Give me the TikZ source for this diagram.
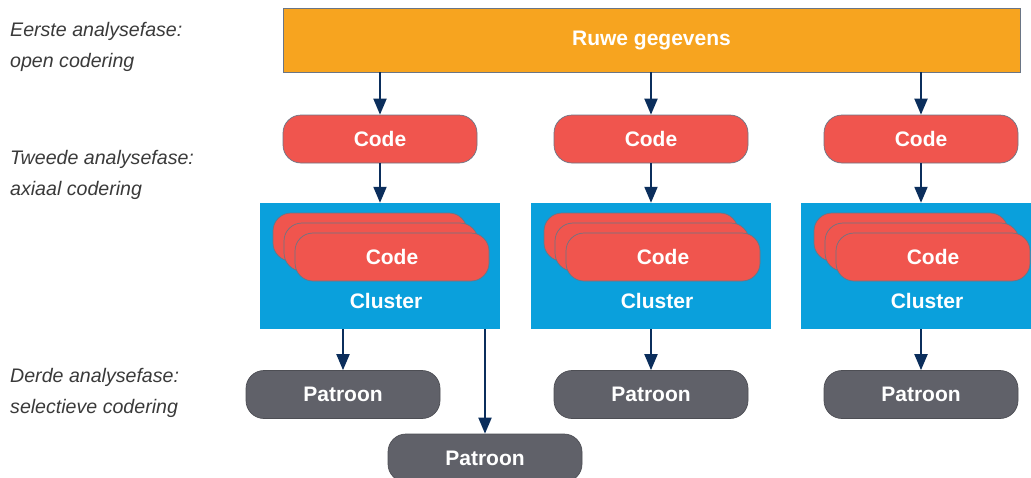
\documentclass[tikz,border=0pt]{standalone}
\usepackage{fontspec}
\setmainfont{Liberation Sans}
\usetikzlibrary{arrows.meta}
\definecolor{rawfill}{HTML}{F7A41F}
\definecolor{codered}{HTML}{F0554E}
\definecolor{clusterblue}{HTML}{0AA0DC}
\definecolor{patgray}{HTML}{606169}
\definecolor{edgegray}{HTML}{6A7585}
\definecolor{arrownavy}{HTML}{0B2E5C}
\definecolor{phasegray}{HTML}{3A3A3A}

\tikzset{
  box/.style={minimum width=194pt,minimum height=48pt,rounded corners=18pt,
    inner sep=0pt,text=white,font=\bfseries\fontsize{21}{25}\selectfont},
  codebox/.style={box,fill=codered,draw=edgegray,line width=0.7pt},
  patbox/.style={box,fill=patgray,draw=patgray!80!black,line width=0.7pt},
  clusterbox/.style={minimum width=240pt,minimum height=126pt,inner sep=0pt,fill=clusterblue},
  flow/.style={-{Triangle[width=13pt,length=16pt]},line width=2pt,draw=arrownavy},
  phase/.style={anchor=north west,align=left,inner sep=0pt,text=phasegray,
    font=\itshape\fontsize{19.6}{31}\selectfont}
}

\begin{document}
\begin{tikzpicture}[x=1pt,y=-1pt]
  \useasboundingbox (0,0) rectangle (1031,477);
  % phases
  \node[phase] (ph1) at (10,22) {Eerste analysefase:\\open codering};
  \node[phase] (ph2) at (10,150) {Tweede analysefase:\\axiaal codering};
  \node[phase] (ph3) at (10,368) {Derde analysefase:\\selectieve codering};

  % raw data
  \node[minimum width=737pt,minimum height=64pt,inner sep=0pt,fill=rawfill,draw=edgegray,
    line width=0.7pt,text=white,font=\bfseries\fontsize{21}{25}\selectfont]
    (raw) at (651.5,40) {Ruwe gegevens};

  % three columns
  \foreach \i/\x in {1/380,2/651,3/921} {
    \node[codebox] (code\i) at (\x,139) {Code};
    \node[clusterbox] (cl\i) at (\x,266) {};
    \node[codebox] (back\i) at (\x-10,237) {};
    \node[codebox] (mid\i) at (\x+1,247) {};
    \node[codebox] (front\i) at (\x+12,257) {Code};
    \node[text=white,font=\bfseries\fontsize{21}{25}\selectfont] (lab\i) at (\x+6,301) {Cluster};
    \draw[flow] (code\i.north |- raw.south) -- (code\i.north);
    \draw[flow] (code\i.south) -- (cl\i.north);
  }

  % patterns
  \node[patbox] (pat1) at (343,394.5) {Patroon};
  \node[patbox] (pat2) at (651,394.5) {Patroon};
  \node[patbox] (pat3) at (921,394.5) {Patroon};
  \node[patbox] (pat4) at (485,458) {Patroon};
  \draw[flow] (pat1.north |- cl1.south) -- (pat1.north);
  \draw[flow] (pat4.north |- cl1.south) -- (pat4.north);
  \draw[flow] (pat2.north |- cl2.south) -- (pat2.north);
  \draw[flow] (pat3.north |- cl3.south) -- (pat3.north);
\end{tikzpicture}
\end{document}
